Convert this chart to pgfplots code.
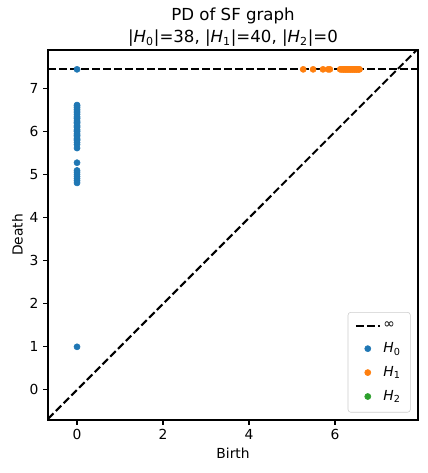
\documentclass[border=0pt]{standalone}
\usepackage{fontspec}
\setmainfont{DejaVu Sans}
\usepackage{pgfplots}
\pgfplotsset{compat=1.18}
\definecolor{tabblue}{HTML}{1F77B4}
\definecolor{taborange}{HTML}{FF7F0E}
\definecolor{tabgreen}{HTML}{2CA02C}
\begin{document}
\begin{tikzpicture}
\path[use as bounding box] (-34.6bp,-38.2bp) rectangle (272.9bp,302.4bp);
\begin{axis}[
  scale only axis, width=266.4bp, height=266.4bp,
  xmin=-0.674, xmax=7.93, ymin=-0.70, ymax=7.9,
  axis line style={line width=0.8pt},
  xtick={0,2,4,6}, ytick={0,1,2,3,4,5,6,7},
  tick align=outside, tick pos=left,
  major tick length=3.5pt,
  every tick/.style={black, line width=0.8pt},
  /pgf/number format/assume math mode=true,
  tick label style={font=\fontsize{10}{12}\selectfont},
  xlabel={Birth}, ylabel={Death},
  label style={font=\fontsize{10}{12}\selectfont},
  xlabel style={yshift=1pt},
  ylabel style={yshift=-2pt},
  title={PD of SF graph\\|\textit{H}\textsubscript{0}|=38, |\textit{H}\textsubscript{1}|=40, |\textit{H}\textsubscript{2}|=0},
  title style={font=\fontsize{12}{16}\selectfont, align=center, yshift=-7pt},
  legend style={at={(0.98,0.02)}, anchor=south east, draw=black!20, rounded corners=2pt, font=\fontsize{10}{12}\selectfont, row sep=4.5pt, inner xsep=5pt, inner ysep=5pt},
  legend cell align=left,
  clip=true,
]
\addplot[black, line width=1.5pt, dash pattern=on 5.55pt off 2.4pt]
  coordinates {(-0.674,7.45) (7.93,7.45)};
\addlegendentry{∞}
\addplot[black, line width=1.5pt, dash pattern=on 5.55pt off 2.4pt, forget plot] coordinates {(-0.674,-0.674) (7.93,7.93)};
\addplot[only marks, mark=*, mark size=2.2pt, color=tabblue] coordinates {
(0,7.45) (0,1.0)
(0,4.81) (0,4.86) (0,4.91) (0,4.96) (0,5.01) (0,5.06) (0,5.10)
(0,5.28)
(0,5.62)
(0,5.70) (0,5.75) (0,5.80) (0,5.85) (0,5.90) (0,5.95)
(0,6.00) (0,6.05) (0,6.10) (0,6.15) (0,6.20) (0,6.25) (0,6.30)
(0,6.35) (0,6.40) (0,6.44) (0,6.48) (0,6.52) (0,6.56) (0,6.60)
(0,6.62) (0,6.12) (0,6.22) (0,6.32) (0,6.02) (0,5.92) (0,5.82)
};
\addlegendentry{\textit{H}\textsubscript{0}}
\addplot[only marks, mark=*, mark size=2.2pt, color=taborange] coordinates {
(5.26,7.45) (5.49,7.45) (5.72,7.45) (5.84,7.45) (5.88,7.45)
(6.12,7.45) (6.15,7.45) (6.18,7.45) (6.21,7.45) (6.24,7.45) (6.27,7.45)
(6.30,7.45) (6.33,7.45) (6.36,7.45) (6.39,7.45) (6.42,7.45) (6.45,7.45)
(6.48,7.45) (6.51,7.45) (6.54,7.45) (6.57,7.45) (6.20,7.45) (6.30,7.45)
(6.40,7.45) (6.50,7.45) (6.35,7.45) (6.25,7.45) (6.45,7.45) (6.55,7.45)
};
\addlegendentry{\textit{H}\textsubscript{1}}
\addlegendimage{only marks, mark=*, mark size=2.2pt, color=tabgreen}
\addlegendentry{\textit{H}\textsubscript{2}}
\end{axis}
\end{tikzpicture}
\end{document}
